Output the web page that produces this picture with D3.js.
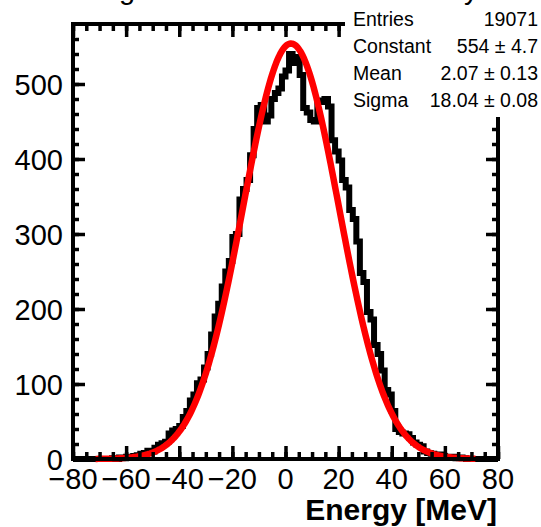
<!DOCTYPE html>
<html>
<head>
<meta charset="utf-8">
<script src="https://cdn.jsdelivr.net/npm/d3@7"></script>
<style>
  html, body { margin: 0; padding: 0; background: #fff; }
  svg { display: block; }
  text { font-family: "Liberation Sans", Arial, Helvetica, sans-serif; }
</style>
</head>
<body>
<svg id="chart" width="541" height="527"></svg>
<script>
// ---- data ----
const histRange = [-80, 80];
const binCounts = [
  0,0,0,0,0,0,0,0,0,0,
  0,1,0,2,1,3,2,4,5,7,
  8,11,10,15,19,21,23,34,38,40,
  44,56,64,78,86,101,106,122,140,166,
  190,207,230,250,264,296,300,346,360,372,
  405,440,468,472,450,458,480,488,494,510,
  518,540,528,536,512,468,462,452,450,478,
  476,480,470,425,410,398,372,362,332,320,
  290,248,236,196,186,152,140,118,92,86,
  64,40,36,34,33,28,22,19,17,10,
  8,7,5,6,4,3,2,3,1,2,
  1,0,0,0,0,0,0,0,0,0
];
const xTickLabels = [-80, -60, -40, -20, 0, 20, 40, 60, 80];
const yTickLabels = [0, 100, 200, 300, 400, 500];
const fitConstant = 554, fitMean = 2.07, fitSigma = 18.04;
const fitRange = [-71.5, 71.5];
const statsNames = ["Entries", "Constant", "Mean", "Sigma"];
const statsValues = ["19071", "554 \u00b1 4.7", "2.07 \u00b1 0.13", "18.04 \u00b1 0.08"];
const titleText = "Digitized calorimeter accuracy";
const xTitle = "Energy [MeV]";

// ---- layout ----
const svg = d3.select("#chart");
const L = 73, R = 498, T = 24, B = 459;
const x = d3.scaleLinear().domain(histRange).range([L, R]);
const y = d3.scaleLinear().domain([0, 580]).range([B, T]);

// histogram step outline
const nb = binCounts.length;
const bw = (histRange[1] - histRange[0]) / nb;
const pts = [];
binCounts.forEach((c, i) => {
  const x0 = histRange[0] + i * bw, x1 = x0 + bw;
  pts.push([x(x0), y(c)], [x(x1), y(c)]);
});
svg.append("path")
  .attr("d", d3.line()(pts))
  .attr("fill", "none").attr("stroke", "#000").attr("stroke-width", 6)
  .attr("stroke-linejoin", "miter");

// fit function (Gaussian from the stats-box parameters)
const fx = d3.range(fitRange[0], fitRange[1] + 0.001, 0.5);
const fitLine = d3.line()
  .x(d => x(d))
  .y(d => y(fitConstant * Math.exp(-0.5 * Math.pow((d - fitMean) / fitSigma, 2))));
svg.append("path").attr("d", fitLine(fx))
  .attr("fill", "none").attr("stroke", "#ff0000").attr("stroke-width", 6.5)
  .attr("stroke-linejoin", "round");

// frame
svg.append("rect").attr("x", L).attr("y", T).attr("width", R - L).attr("height", B - T)
  .attr("fill", "none").attr("stroke", "#000").attr("stroke-width", 4);

// ticks
const xMinor = d3.range(-80, 80.001, 5);
const yMinor = d3.range(0, 580, 20);
function tickAxis(axisGen, values, size, tx, ty) {
  const g = svg.append("g").attr("transform", `translate(${tx},${ty})`)
    .call(axisGen.tickValues(values).tickSize(size).tickFormat(""));
  g.select(".domain").remove();
  g.selectAll(".tick line").attr("stroke", "#000").attr("stroke-width", 3.5);
  return g;
}
tickAxis(d3.axisBottom(x), xMinor, -7, 0, B);
tickAxis(d3.axisBottom(x), xTickLabels, -13, 0, B);
tickAxis(d3.axisTop(x), xMinor, -7, 0, T);
tickAxis(d3.axisTop(x), xTickLabels, -13, 0, T);
tickAxis(d3.axisLeft(y), yMinor, -6, L, 0);
tickAxis(d3.axisLeft(y), yTickLabels, -12, L, 0);
tickAxis(d3.axisRight(y), yMinor, -6, R, 0);
tickAxis(d3.axisRight(y), yTickLabels, -12, R, 0);

// tick labels
const fmt = d3.format("");
svg.append("g").selectAll("text").data(xTickLabels).join("text")
  .attr("x", d => x(d)).attr("y", 489).attr("text-anchor", "middle")
  .attr("font-size", 29).text(d => fmt(d));
svg.append("g").selectAll("text").data(yTickLabels).join("text")
  .attr("x", 63).attr("y", d => y(d) + 11).attr("text-anchor", "end")
  .attr("font-size", 29).text(d => fmt(d));

// axis title
svg.append("text").attr("x", 497).attr("y", 520).attr("text-anchor", "end")
  .attr("font-size", 30).attr("font-weight", "bold").text(xTitle);

// stats box
svg.append("rect").attr("x", 345).attr("y", 0).attr("width", 196).attr("height", 117)
  .attr("fill", "#fff");
const rowY = [26, 53, 80, 107];
svg.append("g").selectAll("text").data(statsNames).join("text")
  .attr("x", 353).attr("y", (d, i) => rowY[i]).attr("font-size", 19.5).text(d => d);
svg.append("g").selectAll("text").data(statsValues).join("text")
  .attr("x", 538).attr("y", (d, i) => rowY[i]).attr("text-anchor", "end")
  .attr("font-size", 19.5).text(d => d);

// title (mostly cut off at the top edge)
svg.append("text").attr("x", 285).attr("y", -1).attr("text-anchor", "middle")
  .attr("font-size", 29).text(titleText);
</script>
</body>
</html>
